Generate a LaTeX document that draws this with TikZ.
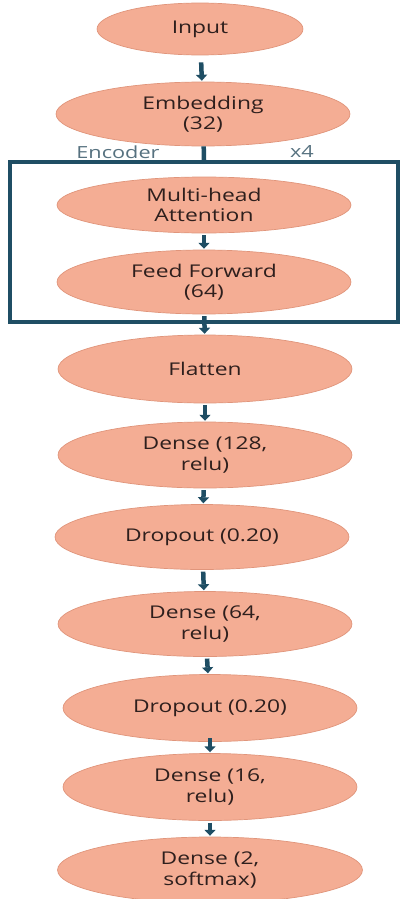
\documentclass[tikz,border=0pt]{standalone}
\usepackage{fontspec}
\setmainfont[FakeStretch=1.3]{Open Sans}
\usepackage{tikz}
\usetikzlibrary{arrows.meta,positioning,shapes.geometric}
\definecolor{layerfill}{HTML}{F4AD94}
\definecolor{layerline}{HTML}{E0957B}
\definecolor{layertext}{HTML}{2E1F1D}
\definecolor{netblue}{HTML}{1F4E64}
\definecolor{netgrey}{HTML}{56717F}
\tikzset{
  layer/.style={
    ellipse,
    draw=layerline,
    fill=layerfill,
    thin,
    inner sep=0pt,
    minimum width=5.88cm,
    minimum height=1.32cm,
    align=center,
    text=layertext,
    font=\fontsize{10}{11.5}\selectfont
  },
  encbox/.style={
    draw=netblue,
    line width=0.08cm,
    minimum width=7.76cm,
    minimum height=3.2cm,
    inner sep=0pt
  },
  steplabel/.style={
    text=netgrey,
    font=\fontsize{9.5}{11}\selectfont
  },
  arrow/.style={
    -{Triangle[length=0.12cm,width=0.22cm]},
    line width=0.09cm,
    draw=netblue,
    shorten <=1pt,
    shorten >=0.5pt
  },
  plainlink/.style={
    line width=0.09cm,
    draw=netblue
  }
}

\begin{document}
\begin{tikzpicture}[x=0.02cm,y=-0.02cm]
\useasboundingbox (0,0) rectangle (404,899);
\node[layer, minimum width=4.12cm, minimum height=1.04cm] (inp) at (200,29) {Input};
\node[layer, minimum height=1.28cm] (emb) at (203,114) {Embedding\\(32)};
\node[encbox] (enc) at (204,242) {};
\node[layer, minimum height=1.12cm] (mha) at (204,205) {Multi-head\\Attention};
\node[layer, minimum height=1.28cm] (ff) at (204,282) {Feed Forward\\(64)};
\node[layer, minimum height=1.36cm] (flat) at (205,369) {Flatten};
\node[layer] (d128) at (205,455) {Dense (128,\\relu)};
\node[layer, minimum height=1.3cm] (drop1) at (202,537) {Dropout (0.20)};
\node[layer, minimum height=1.3cm] (d64) at (205,624) {Dense (64,\\relu)};
\node[layer, minimum height=1.34cm] (drop2) at (210,708) {Dropout (0.20)};
\node[layer, minimum height=1.34cm] (d16) at (210,787) {Dense (16,\\relu)};
\node[layer, minimum width=6.1cm] (d2) at (210,870) {Dense (2,\\softmax)};
\node[steplabel] (enclab) at (118,152) {Encoder};
\node[steplabel] (reps) at (302,152) {x4};
\draw[arrow, shorten <=4pt] (inp) -- (emb);
\draw[plainlink] (emb) -- (enc.north);
\draw[arrow] (mha) -- (ff);
\draw[arrow] (ff) -- (flat);
\draw[arrow] (flat) -- (d128);
\draw[arrow] (d128) -- (drop1);
\draw[arrow] (drop1) -- (d64);
\draw[arrow] (d64) -- (drop2);
\draw[arrow, shorten <=-2pt] (drop2) -- (d16);
\draw[arrow] (d16) -- (d2);
\end{tikzpicture}
\end{document}
